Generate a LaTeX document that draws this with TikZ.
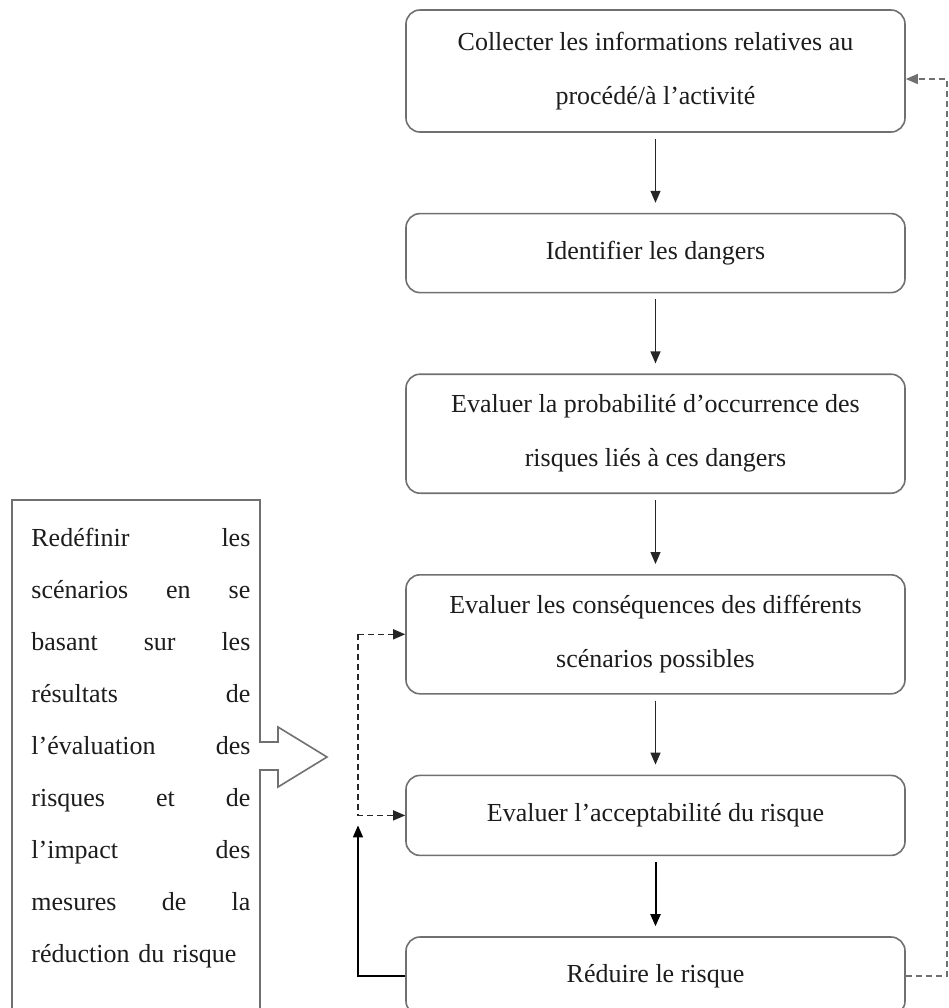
\documentclass[tikz,border=0pt]{standalone}
\usepackage{fontspec}
\setmainfont{Liberation Serif}
\usetikzlibrary{positioning,arrows.meta}
\definecolor{flowEdge}{RGB}{112,112,112}
\definecolor{flowInk}{RGB}{38,38,38}
\definecolor{flowText}{RGB}{28,28,28}

\begin{document}
\begin{tikzpicture}[x=0.5pt,y=-0.5pt,
    stepbox/.style={rounded corners=7pt, draw=flowEdge, line width=0.8pt,
      minimum width=249.5pt, align=center, text=flowText,
      font=\fontsize{13}{27}\selectfont},
    flowarrow/.style={draw=flowInk, line width=0.6pt,
      -{Triangle[length=6pt,width=5pt]}, shorten <=3pt, shorten >=5pt},
    loopdash/.style={draw=flowInk, line width=0.7pt, dash pattern=on 3pt off 2pt,
      -{Triangle[length=6pt,width=5pt]}},
    node distance=40pt]
  \useasboundingbox (0,0) rectangle (949,1008);

  % main chain of steps
  \node[stepbox, minimum height=61pt] (collect) at (655.5,71)
    {Collecter les informations relatives au\\procédé/à l’activité};
  \node[stepbox, minimum height=39.5pt, below=of collect] (ident)
    {Identifier les dangers};
  \node[stepbox, minimum height=59.5pt, below=of ident] (proba)
    {Evaluer la probabilité d’occurrence des\\risques liés à ces dangers};
  \node[stepbox, minimum height=59.5pt, below=of proba] (conseq)
    {Evaluer les conséquences des différents\\scénarios possibles};
  \node[stepbox, minimum height=40pt, below=of conseq] (accept)
    {Evaluer l’acceptabilité du risque};
  \node[stepbox, minimum height=39pt, below=of accept] (reduce)
    {Réduire le risque};

  \draw[flowarrow] (collect) -- (ident);
  \draw[flowarrow] (ident) -- (proba);
  \draw[flowarrow] (proba) -- (conseq);
  \draw[flowarrow] (conseq) -- (accept);
  \draw[flowarrow, line width=1pt, draw=black] (accept) -- (reduce);

  % feedback loops
  \coordinate (loopx) at (358,0);
  \draw[loopdash] (conseq.west -| loopx) -- (conseq.west);
  \draw[loopdash] (conseq.west -| loopx) |- (accept.west);
  \draw[flowarrow, draw=black, line width=0.8pt, shorten <=0pt, shorten >=0pt]
    (reduce.west) -| ([yshift=-5pt]accept.west -| loopx);
  \draw[loopdash, draw=flowEdge] (reduce.east) -- ++(20.5pt,0)
    |- ([yshift=-4pt]collect.east);

  % side note with its block arrow
  \draw[flowEdge, line width=0.8pt] (260,1012) -- (260,770) -- (278,770)
    -- (278,787) -- (327,757) -- (278,727) -- (278,742) -- (260,742)
    -- (260,500) -- (12,500) -- (12,1012);
  \node[anchor=north west, inner sep=0pt, text width=109.5pt, align=left,
        text=flowText, font=\fontsize{13}{26}\selectfont] (redef) at (31,528)
    {Redéfinir\hfill les\\
     scénarios\hfill en\hfill se\\
     basant\hfill sur\hfill les\\
     résultats\hfill de\\
     l’évaluation\hfill des\\
     risques\hfill et\hfill de\\
     l’impact\hfill des\\
     mesures\hfill de\hfill la\\
     réduction du risque};
\end{tikzpicture}
\end{document}
